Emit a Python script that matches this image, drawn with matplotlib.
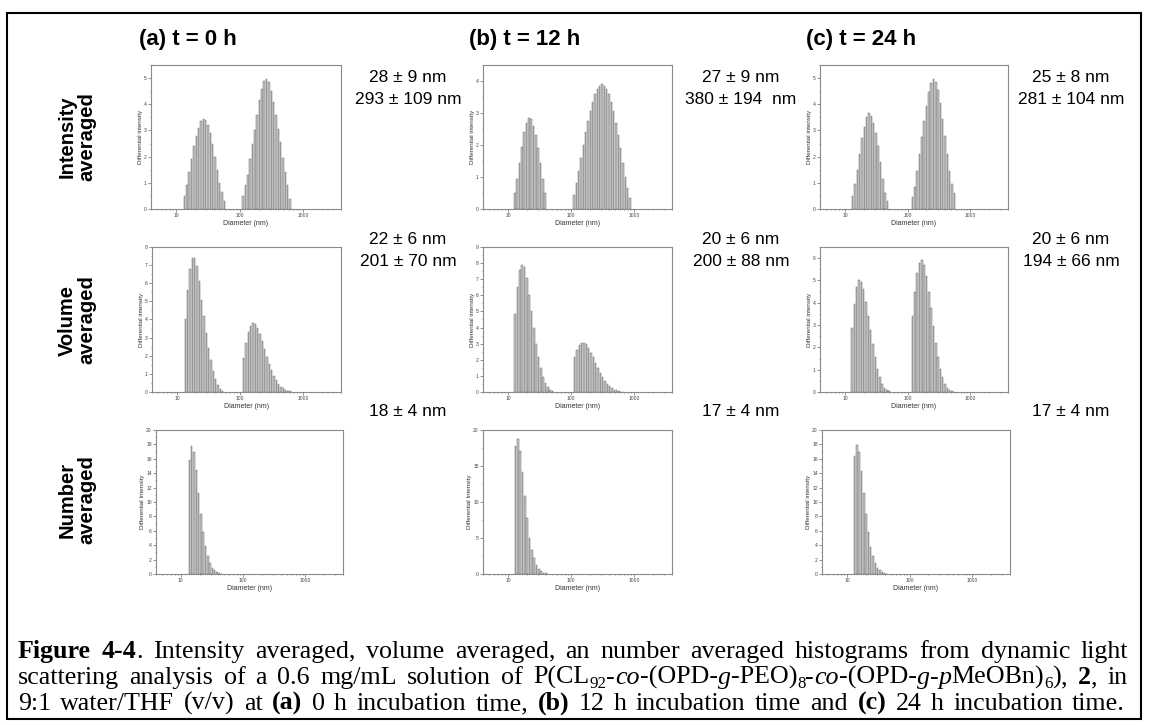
import matplotlib
matplotlib.use("Agg")
import matplotlib.pyplot as plt
import numpy as np
import re
from matplotlib.ticker import MultipleLocator, LogLocator, NullFormatter
from matplotlib.patches import Rectangle

# DLS histograms: each peak = (first bin diameter in nm, bar heights), bins are log spaced
BINS_PER_DECADE = 27

int_0h = [(13.55, [0.5, 0.9, 1.4, 1.9, 2.4, 2.8, 3.1, 3.35, 3.45, 3.4, 3.2, 2.9, 2.5, 2.0, 1.5, 1.0, 0.65, 0.3]),
          (114, [0.5, 0.9, 1.3, 1.9, 2.5, 3.0, 3.6, 4.15, 4.6, 4.9, 4.95, 4.85, 4.5, 4.1, 3.6, 3.05, 2.55, 1.95, 1.4, 0.9, 0.4])]
int_12h = [(12.8, [0.5, 0.95, 1.45, 1.95, 2.4, 2.7, 2.85, 2.8, 2.6, 2.3, 1.9, 1.45, 0.95, 0.5]),
           (111, [0.45, 0.8, 1.2, 1.6, 2.0, 2.4, 2.75, 3.05, 3.35, 3.6, 3.75, 3.85, 3.9, 3.85, 3.75, 3.6, 3.35, 3.05,
                  2.7, 2.3, 1.9, 1.45, 1.0, 0.65, 0.35])]
int_24h = [(13.3, [0.5, 0.95, 1.5, 2.1, 2.7, 3.15, 3.5, 3.65, 3.55, 3.3, 2.9, 2.4, 1.8, 1.15, 0.6, 0.3]),
           (120, [0.45, 0.85, 1.45, 2.1, 2.75, 3.35, 3.95, 4.45, 4.8, 4.95, 4.85, 4.55, 4.05, 3.45, 2.8, 2.1, 1.45, 0.95, 0.6])]

vol_0h = [(13.55, [4.0, 5.65, 6.8, 7.4, 7.4, 6.95, 6.1, 5.1, 4.2, 3.25, 2.45, 1.75, 1.15, 0.7, 0.4, 0.15, 0.05]),
          (114, [1.9, 2.7, 3.3, 3.65, 3.8, 3.75, 3.55, 3.2, 2.8, 2.35, 1.95, 1.55, 1.2, 0.9, 0.65, 0.45, 0.3, 0.2,
                 0.1, 0.06, 0.03])]
vol_12h = [(13.0, [4.85, 6.5, 7.55, 7.9, 7.75, 7.05, 6.05, 5.0, 4.0, 3.0, 2.2, 1.5, 0.95, 0.55, 0.3, 0.15, 0.05]),
           (113.8, [2.2, 2.6, 2.9, 3.05, 3.05, 2.95, 2.75, 2.45, 2.15, 1.8, 1.5, 1.2, 0.95, 0.7, 0.5, 0.35, 0.25,
                    0.15, 0.1, 0.05, 0.03, 0.02])]
vol_24h = [(13.0, [2.85, 3.95, 4.7, 5.0, 4.95, 4.6, 4.05, 3.4, 2.8, 2.15, 1.55, 1.05, 0.65, 0.35, 0.2, 0.08, 0.03]),
           (120, [3.4, 4.5, 5.35, 5.8, 5.9, 5.7, 5.2, 4.5, 3.75, 2.95, 2.2, 1.55, 1.05, 0.65, 0.35, 0.2, 0.1, 0.05, 0.02])]

num_0h = [(13.7, [15.9, 17.8, 17.0, 14.4, 11.3, 8.4, 5.9, 3.9, 2.5, 1.5, 0.9, 0.5, 0.25, 0.1, 0.05])]
num_12h = [(13.15, [17.8, 18.7, 17.1, 14.1, 10.8, 7.8, 5.0, 3.3, 2.2, 1.3, 0.7, 0.35, 0.15, 0.07])]
num_24h = [(13.2, [16.4, 17.9, 16.9, 14.3, 11.2, 8.3, 5.8, 3.8, 2.5, 1.5, 0.9, 0.5, 0.25, 0.1, 0.05])]

panels = [[int_0h, int_12h, int_24h], [vol_0h, vol_12h, vol_24h], [num_0h, num_12h, num_24h]]
y_max = [[5.5, 4.5, 5.5], [8, 9, 6.5], [20, 20, 20]]
y_step = [[1, 1, 1], [1, 1, 1], [2, 5, 2]]
y_labels = [["Differential intensity"] * 3, ["Differential intensity"] * 3,
            ["Differential Intensity", "Differential Intensity", "Differential intensity"]]

col_titles = ["(a) t = 0 h", "(b) t = 12 h", "(c) t = 24 h"]
row_titles = ["Intensity\naveraged", "Volume\naveraged", "Number\naveraged"]
sizes = [[["28 ± 9 nm", "293 ± 109 nm"], ["27 ± 9 nm", "380 ± 194  nm"], ["25 ± 8 nm", "281 ± 104 nm"]],
         [["22 ± 6 nm", "201 ± 70 nm"], ["20 ± 6 nm", "200 ± 88 nm"], ["20 ± 6 nm", "194 ± 66 nm"]],
         [["18 ± 4 nm"], ["17 ± 4 nm"], ["17 ± 4 nm"]]]

W, H = 1149, 725
fig = plt.figure(figsize=(W / 100, H / 100), dpi=100)
plt.rcParams['font.family'] = ['Liberation Sans', 'DejaVu Sans']

# axes boxes in pixels: left, top, right, bottom
col_x = [[(151, 341), (483, 672), (820, 1008)],
         [(152, 341), (483, 672), (820, 1008)],
         [(156, 343), (483, 672), (822, 1010)]]
row_y = [(65, 209), (247, 392), (430, 574)]

ratio = 10 ** (1 / BINS_PER_DECADE)
for r in range(3):
    for c in range(3):
        x0, x1 = col_x[r][c]
        y0, y1 = row_y[r]
        ax = fig.add_axes([x0 / W, 1 - y1 / H, (x1 - x0) / W, (y1 - y0) / H])
        for start, heights in panels[r][c]:
            d = start * ratio ** np.arange(len(heights))
            ax.bar(d, heights, width=d * (ratio ** 0.32 - ratio ** -0.32), color="#c6c6c6",
                   edgecolor="#6a6a6a", linewidth=0.35)
        ax.set_xscale("log")
        ax.set_xlim(4, 4000)
        ax.set_ylim(0, y_max[r][c])
        ax.set_xticks([10, 100, 1000], ["10", "100", "1000"])
        ax.xaxis.set_minor_locator(LogLocator(base=10, subs=np.arange(2, 10)))
        ax.xaxis.set_minor_formatter(NullFormatter())
        ax.yaxis.set_major_locator(MultipleLocator(y_step[r][c]))
        ax.yaxis.set_minor_locator(MultipleLocator(y_step[r][c] / 2))
        ax.tick_params(which="both", direction="out", color="#666666", width=0.5,
                       labelsize=3.6, labelcolor="#444444", pad=1)
        ax.tick_params(which="major", length=2)
        ax.tick_params(which="minor", length=1)
        for s in ax.spines.values():
            s.set_color("#8a8a8a")
            s.set_linewidth(0.8)
        ax.set_xlabel("Diameter (nm)", fontsize=5, color="#333333", labelpad=1)
        ax.set_ylabel(y_labels[r][c], fontsize=4.5, color="#333333", labelpad=1)

# column titles, row labels, size annotations
title_x = [188, 525, 861]
for c in range(3):
    fig.text(title_x[c] / W, 1 - 40 / H, col_titles[c], fontsize=16, fontweight="bold", ha="center", va="center")
row_mid = [137, 320, 500]
for r in range(3):
    fig.text(77 / W, 1 - row_mid[r] / H, row_titles[r], fontsize=14.5, fontweight="bold", rotation=90,
             ha="center", va="center", linespacing=1.0)
note_x = [408, 741, 1071]
note_y = [(78, 100), (240, 262), (412,)]
for r in range(3):
    for c in range(3):
        for line, yy in zip(sizes[r][c], note_y[r]):
            fig.text(note_x[c] / W, 1 - yy / H, line, fontsize=12.5, ha="center", va="center")

# caption, written in runs of plain / bold / italic / subscript text, justified to the box width
SERIF = ["Liberation Serif", "DejaVu Serif"]
CAP = 18.7
caption = [
    [("Figure 4-4", "b"), (". Intensity averaged, volume averaged, an number averaged histograms from dynamic light", "")],
    [("scattering analysis of a 0.6 mg/mL solution of P(CL", ""), ("92", "s"), ("-", ""), ("co", "i"),
     ("-(OPD-", ""), ("g", "i"), ("-PEO)", ""), ("8", "s"), ("-", ""), ("co", "i"), ("-(OPD-", ""),
     ("g", "i"), ("-", ""), ("p", "i"), ("MeOBn)", ""), ("6", "s"), (")", ""), (", ", ""), ("2", "b"), (", in", "")],
    [("9:1 water/THF (v/v) at ", ""), ("(a)", "b"), (" 0 h incubation time, ", ""), ("(b)", "b"),
     (" 12 h incubation time and ", ""), ("(c)", "b"), (" 24 h incubation time.", "")],
]
cap_y = [652, 678, 704]
cap_right = [1128, 1128, 1125]
renderer = fig.canvas.get_renderer()


def style_kw(style):
    kw = dict(family=SERIF, fontsize=CAP, va="baseline", ha="left")
    if style == "b":
        kw["fontweight"] = "bold"
    elif style == "i":
        kw["fontstyle"] = "italic"
    elif style == "s":
        kw["fontsize"] = CAP * 0.65
    return kw


for line, yy, right in zip(caption, cap_y, cap_right):
    pieces = []
    for txt, style in line:
        for part in re.split(r"( )", txt):
            if part:
                pieces.append((part, style))
    texts = []
    used = 0
    n_gaps = 0
    for part, style in pieces:
        if part == " ":
            texts.append(None)
            n_gaps += 1
            continue
        ty = yy + 6 + (4 if style == "s" else 0)
        t = fig.text(0, 1 - ty / H, part, **style_kw(style))
        w = t.get_window_extent(renderer).width
        texts.append((t, w))
        used += w
    gap = (right - 18 - used) / max(n_gaps, 1)
    x = 18
    for item in texts:
        if item is None:
            x += gap
            continue
        t, w = item
        t.set_x(x / W)
        x += w

# frame around the whole figure
fig.patches.append(Rectangle((7 / W, 1 - 719 / H), 1134 / W, 706 / H, transform=fig.transFigure,
                             fill=False, edgecolor="black", linewidth=1.5))

fig.savefig("out.png", dpi=100)
